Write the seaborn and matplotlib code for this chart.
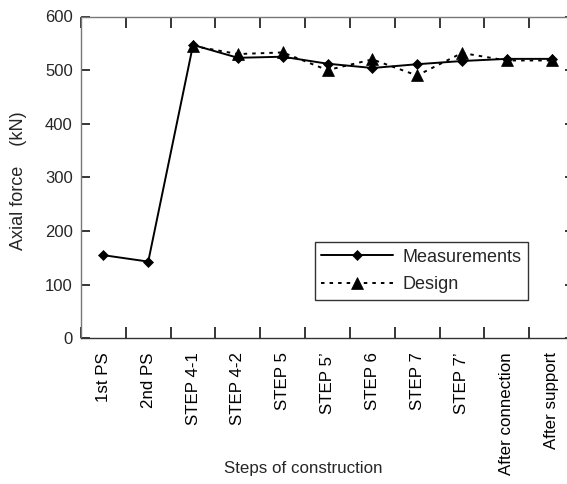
import numpy as np
import pandas as pd
import matplotlib
matplotlib.use("Agg")
import matplotlib.pyplot as plt
from matplotlib.ticker import FixedLocator, MultipleLocator
import seaborn as sns

# ---- data ----
steps = ["1st PS", "2nd PS", "STEP 4-1", "STEP 4-2", "STEP 5", "STEP 5\u2019",
         "STEP 6", "STEP 7", "STEP 7\u2019", "After connection", "After support"]
measurements = [155, 143, 547, 523, 525, 512, 504, 511, 517, 521, 521]
design = [np.nan, np.nan, 545, 530, 533, 500, 520, 490, 532, 518, 518]
series_names = ["Measurements", "Design"]
y_ticks = [0, 100, 200, 300, 400, 500, 600]

df = pd.concat([
    pd.DataFrame({"step": steps, "force": measurements, "series": series_names[0]}),
    pd.DataFrame({"step": steps, "force": design, "series": series_names[1]}),
], ignore_index=True).dropna()

sns.set_style("ticks")
plt.rcParams["font.family"] = ["Liberation Sans", "DejaVu Sans"]
plt.rcParams["font.size"] = 12

fig = plt.figure(figsize=(5.67, 4.84), dpi=100)
ax = fig.add_axes([81 / 567, (484 - 338.3) / 484, 493 / 567, 321.8 / 484])

sns.lineplot(data=df, x="step", y="force", hue="series", style="series",
             palette={"Measurements": "black", "Design": "black"},
             markers={"Measurements": "D", "Design": "^"},
             dashes={"Measurements": "", "Design": (1.8, 2.6)},
             sort=False, errorbar=None, linewidth=1.4,
             markeredgecolor="black", markeredgewidth=0.5,
             ax=ax, legend=False)

lines = ax.lines[:2]
lines[0].set_markersize(5.6)
lines[1].set_markersize(8.5)

ax.set_xlim(-0.5, len(steps) - 0.5)
ax.set_ylim(0, 600)
ax.yaxis.set_major_locator(FixedLocator(y_ticks))
ax.set_xticks(range(len(steps)))
ax.set_xticklabels(steps, rotation=90)
ax.xaxis.set_minor_locator(MultipleLocator(1, offset=0.5))

ax.tick_params(axis="x", which="major", length=0, pad=10, labelsize=12.2, colors="black")
ax.tick_params(axis="x", which="minor", direction="in", length=8, width=1.1,
               top=True, bottom=True, color="black")
ax.tick_params(axis="y", which="major", direction="in", length=6.5, width=1.1,
               left=True, right=True, pad=6, labelsize=12, color="black")

for name, sp in ax.spines.items():
    sp.set_visible(True)
    sp.set_linewidth(1.0)
    sp.set_color("#777777")
ax.spines["bottom"].set_color("#333333")

ax.set_ylabel("Axial force    (kN)", fontsize=13)
ax.yaxis.set_label_coords((27 - 81) / 493, (338.3 - 181) / 321.8)
ax.set_xlabel("Steps of construction", fontsize=12.2)
ax.xaxis.set_label_coords(0.45, -0.38)
ax.xaxis.label.set_va("top")

leg = ax.legend(lines, series_names, loc="upper left",
                bbox_to_anchor=(0.4746, 0.2983), borderaxespad=0,
                frameon=True, fancybox=False, shadow=False, framealpha=1,
                edgecolor="#333333", handlelength=3.95, handletextpad=0.55,
                borderpad=0.35, labelspacing=0.6, fontsize=13)
leg.get_frame().set_linewidth(1.0)

fig.savefig("out.png", dpi=100)
